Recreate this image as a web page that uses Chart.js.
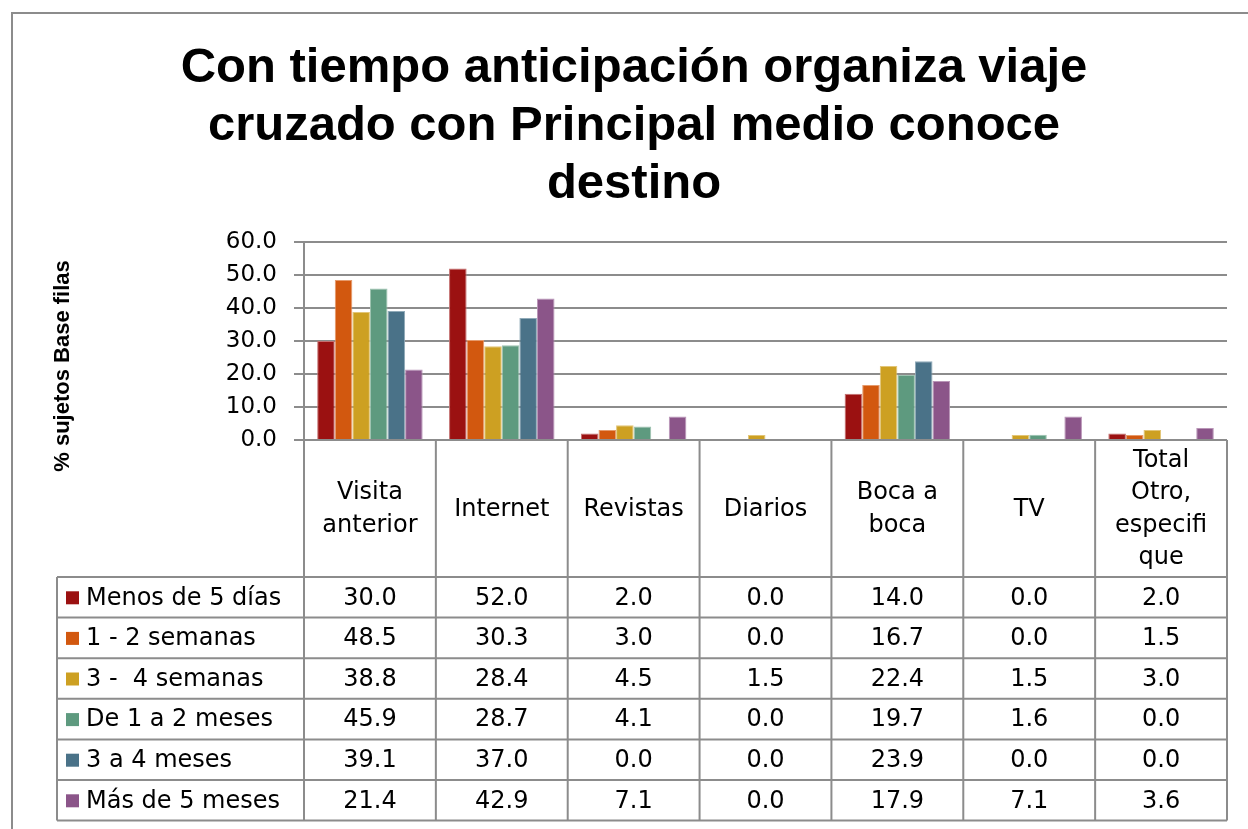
<!DOCTYPE html>
<html>
<head>
<meta charset="utf-8">
<script src="https://cdn.jsdelivr.net/npm/chart.js@4"></script>
<style>
html,body{margin:0;padding:0;background:#fff;}
#wrap{width:1248px;height:829px;position:relative;}
</style>
</head>
<body>
<div id="wrap"><canvas id="c" width="1248" height="829"></canvas></div>
<script>
const titleLines = ["Con tiempo anticipación organiza viaje", "cruzado con Principal medio conoce", "destino"];
const yAxisTitle = "% sujetos Base filas";
const categories = [["Visita","anterior"],["Internet"],["Revistas"],["Diarios"],["Boca a","boca"],["TV"],["Total","Otro,","especifi","que"]];
const seriesNames = ["Menos de 5 días","1 - 2 semanas","3 -  4 semanas","De 1 a 2 meses","3 a 4 meses","Más de 5 meses"];
const menos5dias   = [30.0, 52.0, 2.0, 0.0, 14.0, 0.0, 2.0];
const semanas1a2   = [48.5, 30.3, 3.0, 0.0, 16.7, 0.0, 1.5];
const semanas3a4   = [38.8, 28.4, 4.5, 1.5, 22.4, 1.5, 3.0];
const meses1a2     = [45.9, 28.7, 4.1, 0.0, 19.7, 1.6, 0.0];
const meses3a4     = [39.1, 37.0, 0.0, 0.0, 23.9, 0.0, 0.0];
const mas5meses    = [21.4, 42.9, 7.1, 0.0, 17.9, 7.1, 3.6];
const yTicks = [0, 10, 20, 30, 40, 50, 60];
const colors = ["#9b1111","#d2580f","#cda022","#5e9a7f","#4a7288","#8b5589"];
const edgeColors = ["#c47070","#e59a6c","#e2c577","#9cc2b0","#90aab8","#b995b7"];
const seriesValues = [menos5dias, semanas1a2, semanas3a4, meses1a2, meses3a4, mas5meses];

const GRID = "#8c8c8c";
const FONT = "'DejaVu Sans', sans-serif";

const tablePlugin = {
  id: 'tablePlugin',
  afterDraw(chart) {
    const ctx = chart.ctx;
    const ca = chart.chartArea;
    const x = chart.scales.x;
    const n = categories.length;
    const headerTop = ca.bottom;
    const headerBottom = 577;
    const rowH = 40.6;
    const legendLeft = 57;
    const tableBottom = headerBottom + rowH * seriesNames.length;
    ctx.save();
    // outer frame
    ctx.strokeStyle = GRID; ctx.lineWidth = 2;
    ctx.beginPath();
    ctx.moveTo(12, 829); ctx.lineTo(12, 13); ctx.lineTo(1248, 13);
    ctx.stroke();
    // title
    ctx.fillStyle = "#000";
    ctx.textAlign = 'center'; ctx.textBaseline = 'middle';
    let fs = 48;
    ctx.font = `bold ${fs}px 'Liberation Sans', Arial, sans-serif`;
    const w = ctx.measureText(titleLines[0]).width;
    fs = Math.floor(fs * 923 / w);
    ctx.font = `bold ${fs}px 'Liberation Sans', Arial, sans-serif`;
    titleLines.forEach((t, i) => ctx.fillText(t, 634, 68 + i * 58));
    // y-axis title
    ctx.save();
    ctx.translate(63, 366);
    ctx.rotate(-Math.PI / 2);
    ctx.font = `bold 22px 'Liberation Sans', Arial, sans-serif`;
    ctx.fillText(yAxisTitle, 0, 0);
    ctx.restore();
    // table lines
    ctx.strokeStyle = GRID; ctx.lineWidth = 2;
    ctx.beginPath();
    for (let i = 0; i <= n; i++) {
      const bx = i === 0 ? ca.left : (i === n ? ca.right : (x.getPixelForValue(i - 1) + x.getPixelForValue(i)) / 2);
      ctx.moveTo(bx, headerTop); ctx.lineTo(bx, tableBottom);
    }
    for (let r = 0; r <= seriesNames.length; r++) {
      const yy = headerBottom + r * rowH;
      ctx.moveTo(legendLeft, yy); ctx.lineTo(ca.right, yy);
    }
    ctx.moveTo(legendLeft, headerBottom); ctx.lineTo(legendLeft, tableBottom);
    ctx.stroke();
    // header labels
    ctx.fillStyle = "#000";
    ctx.font = `24px ${FONT}`;
    ctx.textAlign = 'center'; ctx.textBaseline = 'middle';
    const lh = 32.5;
    const hMid = (headerTop + headerBottom) / 2 + 1;
    categories.forEach((lines, i) => {
      const cx = x.getPixelForValue(i);
      const start = hMid - (lines.length - 1) * lh / 2;
      lines.forEach((l, k) => ctx.fillText(l, cx, start + k * lh));
    });
    // rows
    seriesNames.forEach((name, r) => {
      const cy = headerBottom + r * rowH + rowH / 2 + 1;
      ctx.fillStyle = colors[r];
      ctx.fillRect(66, cy - 7, 13, 13);
      ctx.fillStyle = "#000";
      ctx.textAlign = 'left';
      ctx.fillText(name, 86, cy);
      ctx.textAlign = 'center';
      seriesValues[r].forEach((v, i) => {
        ctx.fillText(v.toFixed(1), x.getPixelForValue(i), cy);
      });
    });
    ctx.restore();
  }
};

new Chart(document.getElementById('c'), {
  type: 'bar',
  data: {
    labels: categories.map(c => c.join(' ')),
    datasets: seriesNames.map((name, i) => ({
      label: name,
      data: seriesValues[i],
      backgroundColor: colors[i],
      borderColor: edgeColors[i],
      borderWidth: 1,
      categoryPercentage: 0.8,
      barPercentage: 1.0
    }))
  },
  options: {
    responsive: false,
    animation: false,
    devicePixelRatio: 1,
    layout: { padding: { left: 0, right: 21, top: 242, bottom: 389 } },
    plugins: { legend: { display: false }, title: { display: false }, tooltip: { enabled: false } },
    scales: {
      x: { display: false, offset: true },
      y: {
        min: 0, max: 60,
        afterFit(scale) { scale.width = 304; },
        afterBuildTicks(scale) { scale.ticks = yTicks.map(v => ({ value: v })); },
        ticks: {
          padding: 17,
          color: '#000',
          font: { family: "'DejaVu Sans', sans-serif", size: 23 },
          callback: v => Number(v).toFixed(1)
        },
        grid: { color: GRID, lineWidth: 2, tickLength: 10, drawTicks: true },
        border: { display: true, color: GRID, width: 2 }
      }
    }
  },
  plugins: [tablePlugin]
});
</script>
</body>
</html>
